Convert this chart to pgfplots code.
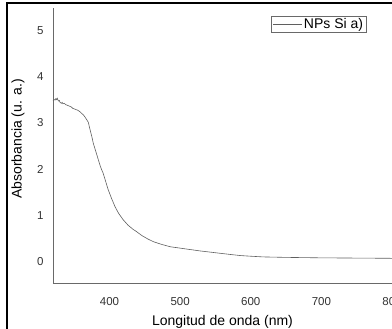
\documentclass[border=0pt]{standalone}
\usepackage{pgfplots}
\pgfplotsset{compat=1.18}
\usepackage{fontspec}
\setmainfont{Liberation Sans}
\definecolor{axgray}{RGB}{105,105,105}
\definecolor{curve}{RGB}{95,95,95}
\begin{document}
\begin{tikzpicture}
\useasboundingbox (-53pt,-45.7pt) rectangle (339pt,283.3pt);
\draw[line width=2pt,black] (-46pt,-60pt) |- (400pt,280.3pt);
\begin{axis}[
  scale only axis,
  width=339pt, height=275.3pt,
  xmin=320, xmax=800,
  ymin=-0.47, ymax=5.48,
  axis x line=bottom, axis y line=left,
  axis line style={-, draw=axgray, line width=0.9pt},
  xtick={400,500,600,700,800},
  ytick={0,1,2,3,4,5},
  major tick length=0pt,
  /pgf/number format/assume math mode=true,
  /pgf/number format/1000 sep={},
  tick label style={font=\fontsize{11.5}{13}\selectfont, text=black!80},
  xticklabel style={yshift=-11pt},
  yticklabel style={xshift=-6pt},
  xlabel={Longitud de onda (nm)},
  ylabel={Absorbancia (u. a.)},
  label style={font=\fontsize{14}{16}\selectfont},
  xlabel style={at={(axis description cs:0.5,0)}, anchor=base, yshift=-42.7pt},
  ylabel style={at={(axis description cs:-0.1032,0.524)}, anchor=center, rotate=0},
  legend style={at={(axis description cs:0.926,0.971)}, anchor=north east,
    draw=axgray, line width=0.6pt, font=\fontsize{14}{16}\selectfont,
    inner xsep=2pt, inner ysep=0.5pt, nodes={inner sep=1.5pt}},
  legend image code/.code={\draw[#1] (0pt,0pt) -- (29pt,0pt);},
]
\addplot[curve, line width=0.6pt] coordinates {
(320,3.48) (322,3.50) (323,3.49) (324,3.52) (325,3.50) (326,3.53) (327,3.49)
(328,3.47) (329,3.48) (330,3.44) (332,3.42) (333,3.44) (334,3.41) (336,3.42)
(338,3.39) (340,3.38) (343,3.36) (346,3.34) (348,3.31) (350,3.30) (355,3.27)
(358,3.24) (360,3.21) (363,3.17) (365,3.13) (368,3.06) (370,3.01) (372,2.88)
(375,2.70) (377,2.56) (380,2.41) (384,2.21) (387,2.06) (389,1.98) (391,1.91)
(394,1.76) (398,1.56) (403,1.36) (408,1.18) (413,1.04) (419,0.91) (426,0.79)
(433,0.70) (438,0.65) (446,0.56) (454,0.49) (462,0.43) (474,0.37) (486,0.32)
(500,0.29) (514,0.26) (528,0.23) (542,0.205) (556,0.18) (570,0.155) (585,0.13)
(600,0.115) (618,0.10) (650,0.09) (700,0.08) (750,0.075) (800,0.07)
};
\addlegendentry{NPs Si a)}
\end{axis}
\end{tikzpicture}
\end{document}
